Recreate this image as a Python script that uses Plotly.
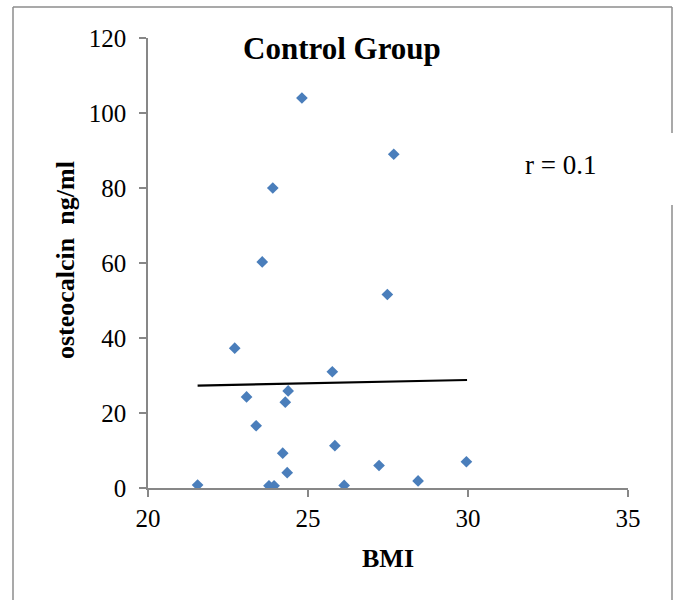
import plotly.graph_objects as go

# Data
bmi = [21.55, 23.78, 23.94, 22.71, 23.08, 23.38, 23.57, 23.90, 24.21, 24.29, 24.38,
       24.35, 24.81, 25.76, 25.84, 26.13, 27.22, 27.48, 27.68, 28.44, 29.95]
osteocalcin = [0.8, 0.6, 0.6, 37.3, 24.3, 16.6, 60.3, 80.0, 9.3, 22.9, 25.9,
               4.1, 104.0, 31.0, 11.3, 0.7, 6.0, 51.6, 89.0, 1.9, 7.0]
trend_x = [21.55, 29.97]
trend_y = [27.3, 28.8]
x_ticks = [20, 25, 30, 35]
y_ticks = [0, 20, 40, 60, 80, 100, 120]

W, H = 676, 600
L, R, T, B = 148, 48, 38, 112
pw = W - L - R
ph = H - T - B

def px(x):
    return (x - L) / pw

def py(y):
    return (H - B - y) / ph

FONT = "Liberation Serif, Times New Roman, serif"
AX = "#878787"

fig = go.Figure()
fig.add_trace(go.Scatter(x=trend_x, y=trend_y, mode="lines",
                         line=dict(color="black", width=2.2), showlegend=False))
fig.add_trace(go.Scatter(x=bmi, y=osteocalcin, mode="markers",
                         marker=dict(symbol="diamond", size=9, color="#4a7ebb",
                                     line=dict(width=0)),
                         showlegend=False))

fig.update_layout(
    width=W, height=H,
    margin=dict(l=L, r=R, t=T, b=B),
    paper_bgcolor="white", plot_bgcolor="white",
    font=dict(family=FONT, color="black", size=25),
    xaxis=dict(range=[20, 35], tickvals=x_ticks, showgrid=False, zeroline=False,
               showline=True, linecolor=AX, linewidth=1.5,
               ticks="outside", ticklen=7, tickcolor=AX, tickwidth=1.5,
               tickfont=dict(family=FONT, size=25, color="black")),
    yaxis=dict(range=[0, 120], tickvals=y_ticks, showgrid=False, zeroline=False,
               showline=True, linecolor=AX, linewidth=1.5,
               ticks="outside", ticklen=7, tickcolor=AX, tickwidth=1.5,
               ticklabelstandoff=8,
               tickfont=dict(family=FONT, size=25, color="black")),
)

annots = [
    dict(text="Control Group", x=px(342), y=py(48), size=31, weight="bold"),
    dict(text="r = 0.1", x=px(560), y=py(165), size=27, weight="normal"),
    dict(text="BMI", x=px(388), y=py(558), size=26, weight="bold"),
    dict(text="osteocalcin  ng/ml", x=px(65), y=py(260), size=26, weight="bold", angle=-90),
]
for a in annots:
    fig.add_annotation(text=a["text"], x=a["x"], y=a["y"], xref="paper", yref="paper",
                       showarrow=False, xanchor="center", yanchor="middle",
                       textangle=a.get("angle", 0),
                       font=dict(family=FONT, size=a["size"], color="black",
                                 weight=a["weight"]))

BC = "#8c8c8c"
border = [((13, 7), (13, 600)), ((13, 7), (672, 7)),
          ((672, 7), (672, 133)), ((672, 205), (672, 600))]
for (x0, y0), (x1, y1) in border:
    fig.add_shape(type="line", xref="paper", yref="paper",
                  x0=px(x0), y0=py(y0), x1=px(x1), y1=py(y1),
                  line=dict(color=BC, width=1.5))

fig.write_html("out.html")
